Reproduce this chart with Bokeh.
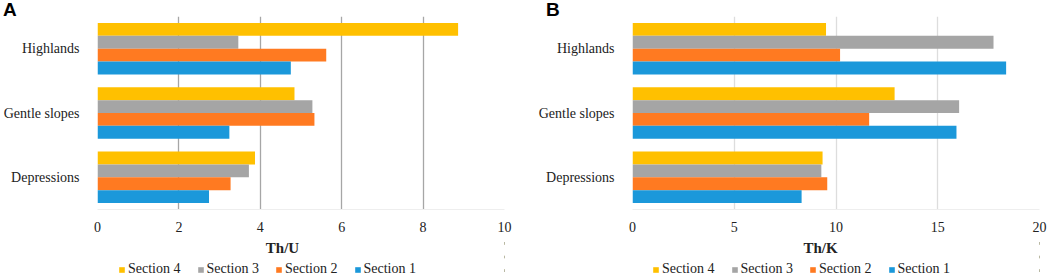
from bokeh.plotting import figure
from bokeh.layouts import row, column
from bokeh.models import FactorRange, Range1d, Legend, LegendItem, Label, FixedTicker, Div
from bokeh.transform import dodge
from bokeh.embed import file_html
from bokeh.resources import INLINE

categories = ["Depressions", "Gentle slopes", "Highlands"]
series = ["Section 4", "Section 3", "Section 2", "Section 1"]
colors = ["#FFC000", "#A5A5A5", "#FF7A21", "#1B98DA"]
offsets = [0.3, 0.1, -0.1, -0.3]

# Panel A: Th/U  (order: Depressions, Gentle slopes, Highlands)
thu_s4 = [3.87, 4.84, 8.86]
thu_s3 = [3.72, 5.28, 3.46]
thu_s2 = [3.27, 5.33, 5.62]
thu_s1 = [2.74, 3.24, 4.75]
thu_ticks = [0, 2, 4, 6, 8, 10]

# Panel B: Th/K
thk_s4 = [9.34, 12.88, 9.51]
thk_s3 = [9.28, 16.05, 17.74]
thk_s2 = [9.57, 11.63, 10.20]
thk_s1 = [8.31, 15.92, 18.36]
thk_ticks = [0, 5, 10, 15, 20]

SERIF = "Liberation Serif"
TXT = "#222222"


def make_panel(letter, xlabel, vals, xmax, ticks, left, right, grid_color,
               leg_x, label_x, letter_x):
    # panel letter
    html = (f'<div style="padding-left:{letter_x}px;padding-top:3px;line-height:13px;'
            f'font-family:\'Liberation Sans\';font-size:19px;font-weight:bold;'
            f'color:black;white-space:nowrap;">{letter}</div>')
    top = Div(text=html, width=526, height=16, margin=0,
              styles={"overflow": "visible"})

    # chart
    p = figure(width=526, height=220, output_backend="svg", toolbar_location=None,
               y_range=FactorRange(factors=categories), x_range=Range1d(0, xmax),
               min_border_left=left, min_border_right=right, min_border_top=0,
               min_border_bottom=27)
    p.outline_line_color = None
    for name, col, off, v in zip(series, colors, offsets, vals):
        src = {"cat": categories, "val": v}
        p.hbar(y=dodge("cat", off, range=p.y_range), right="val", left=0, height=0.2,
               source=src, fill_color=col, line_color=None)
    p.ygrid.grid_line_color = None
    p.xgrid.grid_line_color = grid_color
    p.xgrid.grid_line_width = 1.3
    p.xaxis.ticker = FixedTicker(ticks=ticks)
    for ax in (p.xaxis[0], p.yaxis[0]):
        ax.axis_line_color = None
        ax.major_tick_line_color = None
        ax.minor_tick_line_color = None
        ax.major_label_text_font = SERIF
        ax.major_label_text_font_size = "14px"
        ax.major_label_text_color = TXT
    p.xaxis.axis_line_color = "#EEEEEE"
    p.xaxis.major_label_standoff = 6
    p.yaxis.major_label_standoff = 12

    # axis title + legend strip (frame aligned with the chart frame)
    bot = figure(width=526, height=41, output_backend="svg", toolbar_location=None,
                 x_axis_type=None, y_axis_type=None,
                 x_range=Range1d(-2, -1), y_range=FactorRange(factors=categories),
                 min_border_left=left, min_border_right=right,
                 min_border_top=0, min_border_bottom=0)
    bot.outline_line_color = None
    bot.add_layout(Label(x=label_x - left, y=30, x_units="screen", y_units="screen",
                         text=xlabel, text_font=SERIF, text_font_size="15px",
                         text_font_style="bold", text_align="center",
                         text_baseline="middle", text_color=TXT))
    items = []
    for name, col, v in zip(series, colors, vals):
        src = {"cat": categories, "val": v}
        r = bot.hbar(y="cat", right="val", left=0, height=0.2, source=src,
                     fill_color=col, line_color=None)
        items.append(LegendItem(label=name, renderers=[r]))
    leg = Legend(items=items, orientation="horizontal", location=(leg_x - left, 0),
                 glyph_width=7, glyph_height=7, label_standoff=3, spacing=16,
                 label_text_font=SERIF, label_text_font_size="14px",
                 label_text_color=TXT, padding=0, margin=0,
                 border_line_color=None, background_fill_alpha=0)
    bot.add_layout(leg, "center")
    return column(top, p, bot, spacing=0)


pa = make_panel("A", "Th/U", [thu_s4, thu_s3, thu_s2, thu_s1], 10, thu_ticks,
                95, 22, "#A6A6A6", 116, 280, 3)
pb = make_panel("B", "Th/K", [thk_s4, thk_s3, thk_s2, thk_s1], 20, thk_ticks,
                106, 13, "#DDDDDD", 652 - 526, 820 - 526, 20)

layout = row(pa, pb, spacing=0)
open("out.html", "w").write(file_html(layout, INLINE))
